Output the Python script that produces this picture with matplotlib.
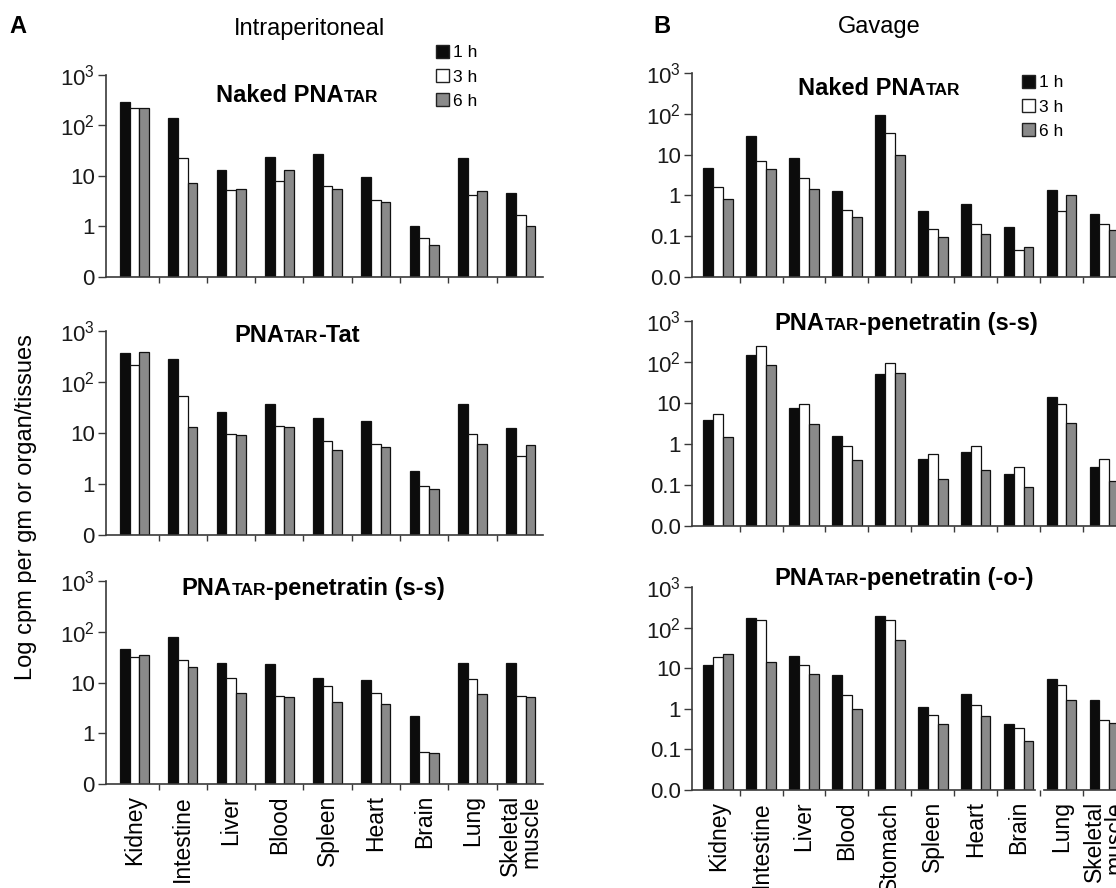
import matplotlib
matplotlib.use('Agg')
import matplotlib.pyplot as plt
from matplotlib.patches import Patch
from matplotlib.ticker import NullLocator
import numpy as np

plt.rcParams['font.family'] = ['Liberation Sans', 'DejaVu Sans']
plt.rcParams['mathtext.fontset'] = 'custom'
plt.rcParams['mathtext.rm'] = 'Liberation Sans'
plt.rcParams['mathtext.it'] = 'Liberation Sans:italic'
plt.rcParams['mathtext.bf'] = 'Liberation Sans:bold'

# ---------------- data ----------------
cats_ip = ['Kidney', 'Intestine', 'Liver', 'Blood', 'Spleen', 'Heart', 'Brain', 'Lung', 'Skeletal\nmuscle']
cats_gav = ['Kidney', 'Intestine', 'Liver', 'Blood', 'Stomach', 'Spleen', 'Heart', 'Brain', 'Lung', 'Skeletal\nmuscle']
time_labels = ['1 h', '3 h', '6 h']

ip_naked_1h = [288, 141, 12.9, 24, 27, 9.3, 0.91, 23, 4.5]
ip_naked_3h = [223, 23, 5.2, 8.0, 6.3, 3.2, 0.50, 4.2, 1.6]
ip_naked_6h = [223, 7.3, 5.4, 12.9, 5.4, 2.9, 0.34, 4.9, 0.94]

ip_tat_1h = [370, 282, 26, 37, 19.4, 17, 1.67, 37, 12.2]
ip_tat_3h = [215, 53, 9.5, 13.5, 7.0, 5.9, 0.80, 9.4, 3.4]
ip_tat_6h = [380, 12.9, 8.9, 12.9, 4.6, 5.2, 0.71, 5.9, 5.8]

ip_pen_1h = [45, 77, 23.7, 22.6, 12.2, 11.1, 2.07, 23.7, 23.7]
ip_pen_3h = [31, 27.5, 12.4, 5.2, 8.3, 6.2, 0.32, 11.4, 5.2]
ip_pen_6h = [34, 19.7, 6.2, 5.1, 4.0, 3.6, 0.31, 5.9, 5.1]

gav_naked_1h = [4.6, 28, 8.4, 1.25, 91, 0.41, 0.62, 0.154, 1.33, 0.35]
gav_naked_3h = [1.57, 7.1, 2.6, 0.44, 33, 0.138, 0.194, 0.037, 0.41, 0.194]
gav_naked_6h = [0.81, 4.4, 1.43, 0.29, 9.8, 0.083, 0.102, 0.045, 1.02, 0.128]

gav_ss_1h = [3.9, 151, 7.6, 1.6, 51, 0.41, 0.62, 0.18, 13.9, 0.27]
gav_ss_3h = [5.4, 240, 9.2, 0.86, 95, 0.56, 0.89, 0.27, 9.4, 0.42]
gav_ss_6h = [1.48, 86, 3.1, 0.39, 53, 0.134, 0.22, 0.081, 3.3, 0.113]

gav_o_1h = [11.7, 170, 20.4, 6.6, 194, 1.12, 2.3, 0.41, 5.4, 1.6]
gav_o_3h = [18.5, 152, 12.0, 2.2, 152, 0.70, 1.25, 0.33, 3.8, 0.52]
gav_o_6h = [21.9, 14.2, 7.2, 1.0, 49, 0.42, 0.66, 0.148, 1.6, 0.44]

ip_ticks = [0.1, 1, 10, 100, 1000]
ip_ticklabels = ['0', '1', '10', r'10$^{2}$', r'10$^{3}$']
gav_ticks = [0.01, 0.1, 1, 10, 100, 1000]
gav_ticklabels = ['0.0', '0.1', '1', '10', r'10$^{2}$', r'10$^{3}$']

# ---------------- figure ----------------
W, H = 1116, 888
fig = plt.figure(figsize=(W / 100, H / 100), dpi=100)
colors = ['#0c0c0c', '#ffffff', '#8a8a8a']
SPINE = '#3a3a3a'


def rect(l, r, t, b):
    return [l / W, 1 - b / H, (r - l) / W, (b - t) / H]


def panel(r, cats, series, ymin, ticks, ticklabels, xlim, width, show_labels, brk=None):
    ax = fig.add_axes(r)
    ax.set_facecolor('none')
    x = np.arange(len(cats))
    for k, (vals, c) in enumerate(zip(series, colors)):
        ax.bar(x + (k - 1) * width, vals, width, bottom=ymin, color=c,
               edgecolor='#111111', linewidth=0.9, zorder=2, label=time_labels[k])
    ax.set_yscale('log')
    ax.set_ylim(ymin, 1000)
    ax.set_xlim(*xlim)
    ax.set_yticks(ticks)
    ax.set_yticklabels(ticklabels)
    ax.yaxis.set_minor_locator(NullLocator())
    ax.set_xticks(x[:-1] + 0.5)
    ax.set_xticklabels([])
    if show_labels:
        ax.set_xticks(x, minor=True)
        ax.set_xticklabels(cats, minor=True, rotation=90, fontsize=16.5,
                           multialignment='right', linespacing=0.85)
    ax.tick_params(axis='x', which='minor', length=0, pad=8)
    ax.tick_params(axis='x', which='major', length=4, width=1, color=SPINE, direction='out')
    ax.tick_params(axis='y', which='major', length=6, width=1, color=SPINE, labelsize=16,
                   pad=2, labelcolor='#1a1a1a')
    for s in ['top', 'right']:
        ax.spines[s].set_visible(False)
    for s in ['left', 'bottom']:
        ax.spines[s].set_color(SPINE)
        ax.spines[s].set_linewidth(1.2)
    if brk is not None:
        ax.spines['bottom'].set_visible(False)
        tr = ax.get_xaxis_transform()
        ax.plot([xlim[0], brk[0]], [0, 0], color=SPINE, lw=1.2, transform=tr, clip_on=False)
        ax.plot([brk[1], xlim[1] + 1], [0, 0], color=SPINE, lw=1.2, transform=tr, clip_on=False)
    return ax


A_XL = (-0.59, 8.46)
B_XL = (-0.61, 9.27)

axA1 = panel(rect(106, 543, 75, 277), cats_ip, [ip_naked_1h, ip_naked_3h, ip_naked_6h],
             0.1, ip_ticks, ip_ticklabels, A_XL, 0.2, False)
axA2 = panel(rect(106, 543, 331, 535), cats_ip, [ip_tat_1h, ip_tat_3h, ip_tat_6h],
             0.1, ip_ticks, ip_ticklabels, A_XL, 0.2, False)
axA3 = panel(rect(106, 543, 581, 784), cats_ip, [ip_pen_1h, ip_pen_3h, ip_pen_6h],
             0.1, ip_ticks, ip_ticklabels, A_XL, 0.2, True)

axB1 = panel(rect(692, 1116, 73, 277), cats_gav, [gav_naked_1h, gav_naked_3h, gav_naked_6h],
             0.01, gav_ticks, gav_ticklabels, B_XL, 0.23, False)
axB2 = panel(rect(692, 1116, 321, 526), cats_gav, [gav_ss_1h, gav_ss_3h, gav_ss_6h],
             0.01, gav_ticks, gav_ticklabels, B_XL, 0.23, False)
axB3 = panel(rect(692, 1116, 587, 790), cats_gav, [gav_o_1h, gav_o_3h, gav_o_6h],
             0.01, gav_ticks, gav_ticklabels, B_XL, 0.23, True, brk=(7.38, 7.6))

# legends
for ax, (lx, ly) in [(axA1, (436, 45)), (axB1, (1022, 75))]:
    handles = [Patch(facecolor=c, edgecolor='#222222', linewidth=1) for c in colors]
    ax.legend(handles, time_labels, loc='upper left', bbox_to_anchor=(lx / W, 1 - ly / H),
              bbox_transform=fig.transFigure, frameon=False, fontsize=12.5,
              handlelength=0.75, handleheight=0.75, handletextpad=0.25,
              labelspacing=0.5, borderpad=0, borderaxespad=0)

# headings
fig.text(9 / W, 1 - 33 / H, 'A', fontsize=17, fontweight='bold', ha='left', va='baseline')
fig.text(653 / W, 1 - 33 / H, 'B', fontsize=17, fontweight='bold', ha='left', va='baseline')
fig.text(310 / W, 1 - 35 / H, 'Intraperitoneal', fontsize=17, ha='center', va='baseline')
fig.text(879 / W, 1 - 33 / H, 'Gavage', fontsize=17, ha='center', va='baseline')
fig.text(26 / W, 1 - 507 / H, 'Log cpm per gm or organ/tissues', fontsize=17,
         rotation=90, ha='center', va='center')

# mixed-size bold panel titles (small caps "TAR")
renderer = fig.canvas.get_renderer()


def mixed_title(pieces, cx, base):
    objs = []
    for s, sz in pieces:
        t = fig.text(0, 1 - base / H, s, fontsize=sz, fontweight='bold', ha='left', va='baseline')
        objs.append((t, t.get_window_extent(renderer).width))
    total = sum(w for _, w in objs)
    x0 = cx - total / 2
    for t, w in objs:
        t.set_x(x0 / W)
        x0 += w


BIG, SMALL = 17, 12.5
mixed_title([('Naked PNA', BIG), ('TAR', SMALL)], 297, 102)
mixed_title([('PNA', BIG), ('TAR', SMALL), ('-Tat', BIG)], 297, 342)
mixed_title([('PNA', BIG), ('TAR', SMALL), ('-penetratin (s-s)', BIG)], 313, 595)
mixed_title([('Naked PNA', BIG), ('TAR', SMALL)], 879, 95)
mixed_title([('PNA', BIG), ('TAR', SMALL), ('-penetratin (s-s)', BIG)], 906, 330)
mixed_title([('PNA', BIG), ('TAR', SMALL), ('-penetratin (-o-)', BIG)], 904, 585)

fig.savefig('out.png', dpi=100)
